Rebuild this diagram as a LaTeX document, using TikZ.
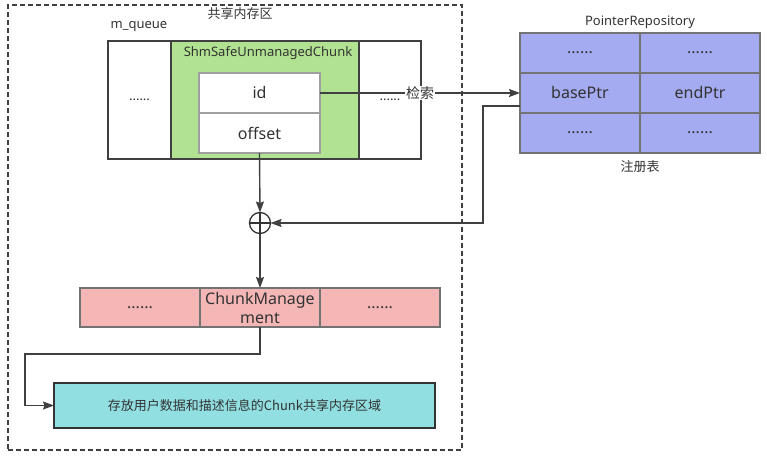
\documentclass[tikz,border=0pt]{standalone}
\usepackage{fontspec}
\setmainfont{Noto Sans}
\newfontfamily\cjk{Noto Sans CJK SC}
\usetikzlibrary{arrows.meta,positioning,calc}
\definecolor{lnclr}{HTML}{404040}
\definecolor{grnfill}{HTML}{B1E291}
\definecolor{blufill}{HTML}{A4ABF1}
\definecolor{pnkfill}{HTML}{F4B7B6}
\definecolor{tealfill}{HTML}{91DFE1}
\tikzset{
  lbl/.style={font=\fontsize{13}{15}\selectfont,text=black!80,inner sep=0pt},
  qcell/.style={draw=lnclr,rectangle,minimum height=118pt,inner sep=0pt,outer sep=0pt,line width=1.3pt,font=\fontsize{13}{15}\selectfont,text=black!80},
  fldblk/.style={draw=gray!75,fill=white,rectangle,minimum width=121pt,minimum height=40pt,inner sep=0pt,outer sep=0pt,line width=1.3pt,font=\fontsize{16}{19}\selectfont,text=black!80},
  repblk/.style={draw=gray!90!black,fill=blufill,rectangle,minimum width=120pt,minimum height=40pt,inner sep=0pt,outer sep=0pt,line width=1.3pt,font=\fontsize{16}{19}\selectfont,text=black!80},
  mgtblk/.style={draw=gray!90!black,fill=pnkfill,rectangle,minimum width=120pt,minimum height=39pt,inner sep=0pt,outer sep=0pt,line width=1.3pt,align=center,font=\fontsize{16}{19}\selectfont,text=black!80},
  arr/.style={-{Stealth[length=11pt,width=8pt,inset=1.5pt]},draw=lnclr,line width=1.4pt},
  sumnode/.style={circle,draw=black!80,line width=1.3pt,minimum size=21pt,inner sep=0pt,outer sep=0pt,
    path picture={\draw[black!80,line width=1.3pt] (path picture bounding box.north) -- (path picture bounding box.south)
      (path picture bounding box.west) -- (path picture bounding box.east);}}
}
\begin{document}
\begin{tikzpicture}[x=1pt,y=-1pt]
  \useasboundingbox (0,0) rectangle (767,457);

  % shared memory frame
  \node[draw=lnclr,dashed,dash pattern=on 5pt off 3pt,line width=1.3pt,minimum width=454pt,minimum height=445pt,inner sep=0pt] (shm) at (235,227.5) {};
  \node[lbl] (shmlbl) at (240,14) {\cjk 共享内存区};

  % m_queue
  \node[lbl] (qlbl) at (139,27) {m\_queue};
  \node[qcell,minimum width=63pt] (qleft) at (139.5,100) {......};
  \node[qcell,minimum width=188pt,fill=grnfill] (chunk) at (265,100) {};
  \node[qcell,minimum width=62pt] (qright) at (390,100) {......};
  \node[lbl] (chunklbl) at (268,53) {ShmSafeUnmanagedChunk};
  \node[fldblk] (id) at (259.5,93) {id};
  \node[fldblk,below=0pt of id] (offset) {offset};

  % PointerRepository
  \node[lbl] (replbl) at (640,22) {PointerRepository};
  \node[repblk] (r1a) at (580,53) {......};
  \node[repblk,right=0pt of r1a] (r1b) {......};
  \node[repblk,below=0pt of r1a] (base) {basePtr};
  \node[repblk,right=0pt of base] (end) {endPtr};
  \node[repblk,below=0pt of base] (r3a) {......};
  \node[repblk,right=0pt of r3a] (r3b) {......};
  \node[lbl] (reglbl) at (640,167) {\cjk 注册表};

  % address sum
  \node[sumnode] (plus) at (260,223) {};

  % ChunkManagement
  \node[mgtblk] (m1) at (140,307.5) {......};
  \node[mgtblk,right=0pt of m1] (mgmt) {ChunkManage\\ment};
  \node[mgtblk,right=0pt of mgmt] (m3) {......};

  % chunk area
  \node[draw=black!80,fill=tealfill,line width=1.5pt,minimum width=381pt,minimum height=45pt,inner sep=0pt,outer sep=0pt,font=\fontsize{13}{15}\selectfont,text=black!80] (area) at (244.5,405.5) {\cjk 存放用户数据和描述信息的Chunk共享内存区域};

  \draw[arr] (id.east) -- node[fill=white,inner sep=1pt,font=\fontsize{14}{16}\selectfont\cjk,text=black!80]{检索} (base.west);
  \draw[arr] (offset.south) -- (plus.north);
  \draw[arr] ([yshift=-13pt]base.west) -- ++(-37,0) |- (plus.east);
  \draw[arr] (plus.south) -- (mgmt.north);
  \draw[arr] (mgmt.south) -- ++(0,27) -| ([xshift=-29pt]area.west) -- (area.west);
\end{tikzpicture}
\end{document}
